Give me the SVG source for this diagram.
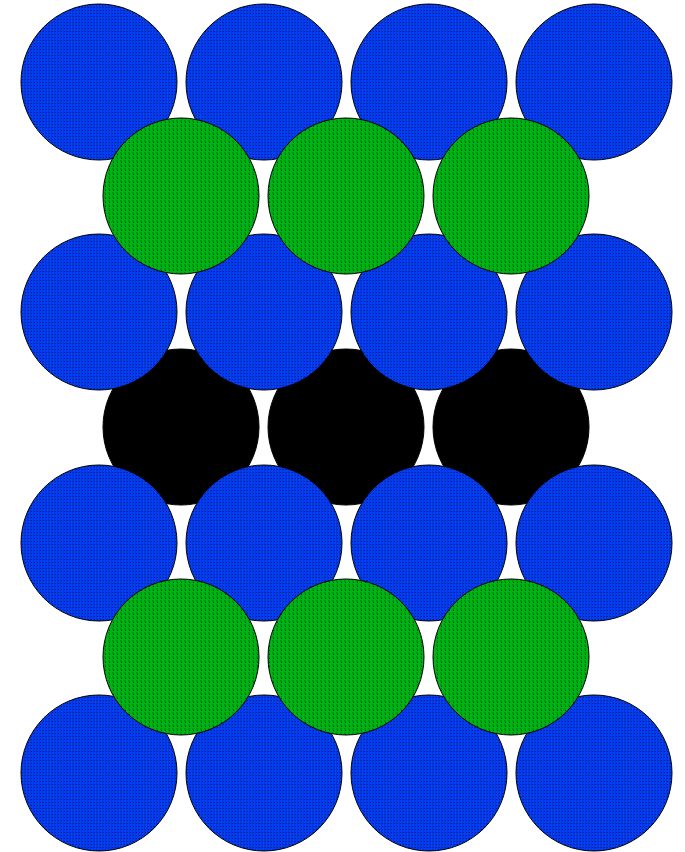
<svg xmlns="http://www.w3.org/2000/svg" width="685" height="852" viewBox="0 0 685 852">
<defs>
<pattern id="pb" width="3" height="3" patternUnits="userSpaceOnUse">
<rect width="3" height="3" fill="#0040ff"/>
<rect x="0" y="0" width="1" height="3" fill="#0a34d0"/>
<rect x="1" y="1" width="1" height="1" fill="#001a80"/>
</pattern>
<pattern id="pg" width="4" height="4" patternUnits="userSpaceOnUse">
<rect width="4" height="4" fill="#00b414"/>
<rect x="0" y="0" width="2" height="2" fill="#009a12"/>
<rect x="1" y="2" width="1" height="1" fill="#003006"/>
</pattern>
<style>
.b{fill:url(#pb);stroke:#000;stroke-width:1}
.g{fill:url(#pg);stroke:#000;stroke-width:1}
.k{fill:#000;stroke:#000;stroke-width:1}
</style>
</defs>
<rect width="685" height="852" fill="#fff"/>
<g id="black-row">
<circle class="k" cx="181" cy="427" r="78"/>
<circle class="k" cx="346" cy="427" r="78"/>
<circle class="k" cx="511" cy="427" r="78"/>
</g>
<g id="blue-rows">
<circle class="b" cx="99" cy="82" r="78"/>
<circle class="b" cx="264" cy="82" r="78"/>
<circle class="b" cx="429" cy="82" r="78"/>
<circle class="b" cx="594" cy="82" r="78"/>
<circle class="b" cx="99" cy="312" r="78"/>
<circle class="b" cx="264" cy="312" r="78"/>
<circle class="b" cx="429" cy="312" r="78"/>
<circle class="b" cx="594" cy="312" r="78"/>
<circle class="b" cx="99" cy="543" r="78"/>
<circle class="b" cx="264" cy="543" r="78"/>
<circle class="b" cx="429" cy="543" r="78"/>
<circle class="b" cx="594" cy="543" r="78"/>
<circle class="b" cx="99" cy="773" r="78"/>
<circle class="b" cx="264" cy="773" r="78"/>
<circle class="b" cx="429" cy="773" r="78"/>
<circle class="b" cx="594" cy="773" r="78"/>
</g>
<g id="green-rows">
<circle class="g" cx="181" cy="196" r="78"/>
<circle class="g" cx="346" cy="196" r="78"/>
<circle class="g" cx="511" cy="196" r="78"/>
<circle class="g" cx="181" cy="657" r="78"/>
<circle class="g" cx="346" cy="657" r="78"/>
<circle class="g" cx="511" cy="657" r="78"/>
</g>
</svg>
